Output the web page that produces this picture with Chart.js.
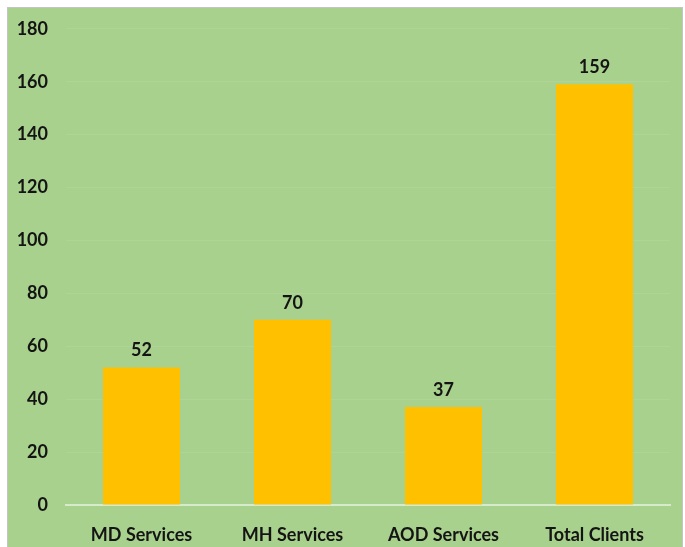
<!DOCTYPE html>
<html>
<head>
<meta charset="utf-8">
<script src="https://cdn.jsdelivr.net/npm/chart.js@4"></script>
<style>
  html, body { margin: 0; padding: 0; background: #fff; overflow: hidden; }
  #panel {
    position: absolute; left: 7px; top: 7px;
    width: 674px; height: 545px;
    background: #a9d18e;
    border: 1px solid #c4c4c4;
    overflow: hidden;
  }
  #chart { display: block; position: absolute; left: 0; top: -8px; }
</style>
</head>
<body>
<div id="panel"><canvas id="chart" width="674" height="549"></canvas></div>
<script>
// categorias y valores
const categories = ['MD Services', 'MH Services', 'AOD Services', 'Total Clients'];
const clientCounts = [52, 70, 37, 159];
const yTicks = [0, 20, 40, 60, 80, 100, 120, 140, 160, 180];

const fontFam = 'Lato, "Liberation Sans", sans-serif';

// etiquetas sobre las barras
const barLabels = {
  id: 'barLabels',
  afterDatasetsDraw(chart) {
    const ctx = chart.ctx;
    const meta = chart.getDatasetMeta(0);
    ctx.save();
    ctx.font = 'bold 18px ' + fontFam;
    ctx.fillStyle = '#141414';
    ctx.textAlign = 'center';
    ctx.textBaseline = 'bottom';
    meta.data.forEach((bar, i) => {
      ctx.fillText(String(clientCounts[i]), bar.x, bar.y - 8);
    });
    ctx.restore();
  }
};

new Chart(document.getElementById('chart').getContext('2d'), {
  type: 'bar',
  data: {
    labels: categories,
    datasets: [{
      data: clientCounts,
      backgroundColor: '#ffc000',
      borderWidth: 0,
      categoryPercentage: 1,
      barPercentage: 0.51
    }]
  },
  options: {
    responsive: false,
    animation: false,
    layout: { padding: { left: 0, right: 12, top: 3, bottom: 0 } },
    plugins: { legend: { display: false }, tooltip: { enabled: false } },
    scales: {
      x: {
        grid: { display: false, drawTicks: false },
        border: { display: true, color: '#d6ebcc', width: 2 },
        ticks: { color: '#141414', font: { family: fontFam, size: 18, weight: 'bold' }, padding: 19, maxRotation: 0 },
        afterFit(scale) { scale.height = 44; }
      },
      y: {
        min: 0, max: 180,
        afterBuildTicks(scale) { scale.ticks = yTicks.map(v => ({ value: v })); },
        grid: { color: 'rgba(255,255,255,0.07)', drawTicks: false },
        border: { display: false },
        ticks: { color: '#141414', font: { family: fontFam, size: 18, weight: 'bold' }, padding: 18 },
        afterFit(scale) { scale.width = 58; }
      }
    }
  },
  plugins: [barLabels]
});
</script>
</body>
</html>
